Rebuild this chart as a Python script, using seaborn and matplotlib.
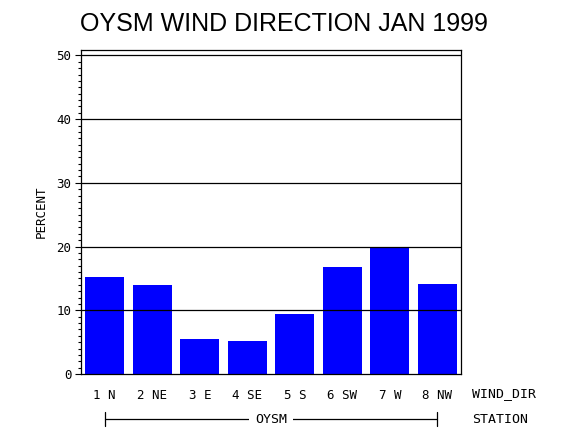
import pandas as pd
import seaborn as sns
import matplotlib.pyplot as plt
from matplotlib.ticker import MultipleLocator
from matplotlib.transforms import blended_transform_factory

# Wind direction categories and percentage of observations
directions = ['1 N', '2 NE', '3 E', '4 SE', '5 S', '6 SW', '7 W', '8 NW']
percent = [15.2, 14.0, 5.5, 5.2, 9.4, 16.8, 20.0, 14.1]
station = 'OYSM'
y_ticks = [0, 10, 20, 30, 40, 50]

data = pd.DataFrame({'WIND_DIR': directions, 'PERCENT': percent})

sns.set_style("white")
plt.rcParams['font.family'] = ['DejaVu Sans Mono', 'DejaVu Sans']
plt.rcParams['text.color'] = 'black'
plt.rcParams['axes.labelcolor'] = 'black'
plt.rcParams['xtick.color'] = 'black'
plt.rcParams['ytick.color'] = 'black'

fig = plt.figure(figsize=(5.7, 4.3), dpi=100)
ax = fig.add_axes([0.1421, 0.1302, 0.6667, 0.7535])

sns.barplot(data=data, x='WIND_DIR', y='PERCENT', color='#0000ff',
            saturation=1, width=0.82, ax=ax, linewidth=0, edgecolor='none',
            zorder=2)

# Axis limits and ticks
ax.set_ylim(0, 50.85)
ax.set_xlim(-0.5, len(directions) - 0.5)
ax.set_yticks(y_ticks)
ax.yaxis.set_minor_locator(MultipleLocator(1))
ax.tick_params(axis='y', which='major', direction='out', length=4, width=0.8,
               labelsize=9, pad=3, left=True)
ax.tick_params(axis='y', which='minor', direction='out', length=2.5, width=0.8, left=True)
ax.tick_params(axis='x', length=0, labelsize=9, pad=11)

# Horizontal gridlines drawn over the bars
for v in y_ticks[1:]:
    ax.axhline(v, color='black', linewidth=0.9, zorder=3)

for side in ['left', 'right', 'top', 'bottom']:
    ax.spines[side].set_visible(True)
    ax.spines[side].set_color('black')
    ax.spines[side].set_linewidth(0.9)
    ax.spines[side].set_zorder(4)

ax.set_xlabel('')
ax.set_ylabel('PERCENT', fontsize=9, labelpad=6)

# Title
fig.text(0.499, 0.945, 'OYSM WIND DIRECTION JAN 1999', ha='center', va='center',
         fontsize=18, family='Liberation Sans')

# Category labels on the right
ax.text(1.029, -0.061, 'WIND_DIR', transform=ax.transAxes, ha='left', va='center',
        fontsize=9.5, clip_on=False)
ax.text(1.029, -0.139, 'STATION', transform=ax.transAxes, ha='left', va='center',
        fontsize=9.5, clip_on=False)

# Station bracket under the bars
trans = blended_transform_factory(ax.transData, ax.transAxes)
n = len(directions) - 1
ax.plot([0, n], [-0.139, -0.139], color='black', linewidth=0.9,
        transform=trans, clip_on=False)
for xe in [0, n]:
    ax.plot([xe, xe], [-0.118, -0.160], color='black', linewidth=0.9,
            transform=trans, clip_on=False)
ax.text(n / 2, -0.139, station, transform=trans, ha='center', va='center',
        fontsize=9.5, clip_on=False,
        bbox=dict(facecolor='white', edgecolor='none', pad=4))

fig.savefig('out.png', dpi=100)
